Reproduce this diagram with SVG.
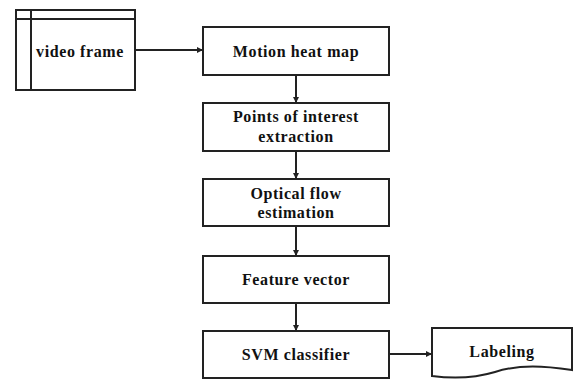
<svg xmlns="http://www.w3.org/2000/svg" width="573" height="380" viewBox="0 0 573 380">
<style>
.box{fill:#fff;stroke:#222;stroke-width:2}
.t{font-family:"Liberation Serif","Times New Roman",serif;font-weight:bold;font-size:16px;letter-spacing:0.6px;fill:#111;text-anchor:middle}
.c{stroke:#222;stroke-width:2;fill:none}
</style>
<defs>
<marker id="ah" markerWidth="6" markerHeight="6" refX="5" refY="3" orient="auto" markerUnits="userSpaceOnUse">
<path d="M0,0 L6,3 L0,6 z" fill="#222"/>
</marker>
</defs>
<rect width="573" height="380" fill="#fff"/>
<g id="video">
<rect class="box" x="16" y="10" width="119" height="80"/>
<line class="c" x1="16" y1="19" x2="135" y2="19"/>
<line class="c" x1="31" y1="10" x2="31" y2="90"/>
<text class="t" x="80" y="57">video frame</text>
</g>
<g id="motion">
<rect class="box" x="203" y="27" width="186" height="48"/>
<text class="t" x="296" y="57">Motion heat map</text>
</g>
<g id="poi">
<rect class="box" x="203" y="103" width="186" height="48"/>
<text class="t" x="296" y="122">Points of interest</text>
<text class="t" x="296" y="142">extraction</text>
</g>
<g id="optical">
<rect class="box" x="203" y="179" width="186" height="47"/>
<text class="t" x="296" y="199">Optical flow</text>
<text class="t" x="296" y="218">estimation</text>
</g>
<g id="feature">
<rect class="box" x="203" y="256" width="186" height="47"/>
<text class="t" x="296" y="285">Feature vector</text>
</g>
<g id="svm">
<rect class="box" x="203" y="331" width="186" height="47"/>
<text class="t" x="296" y="360">SVM classifier</text>
</g>
<g id="labeling">
<path class="box" d="M432,328 L572,328 L572,370 C545,366 520,364 495,372 C475,378 455,379 432,376 Z"/>
<text class="t" x="502" y="357">Labeling</text>
</g>
<g id="connectors">
<line class="c" x1="135" y1="50" x2="202" y2="50" marker-end="url(#ah)"/>
<line class="c" x1="296" y1="75" x2="296" y2="102" marker-end="url(#ah)"/>
<line class="c" x1="296" y1="151" x2="296" y2="178" marker-end="url(#ah)"/>
<line class="c" x1="296" y1="226" x2="296" y2="255" marker-end="url(#ah)"/>
<line class="c" x1="296" y1="303" x2="296" y2="330" marker-end="url(#ah)"/>
<line class="c" x1="389" y1="354" x2="431" y2="354" marker-end="url(#ah)"/>
</g>
</svg>
